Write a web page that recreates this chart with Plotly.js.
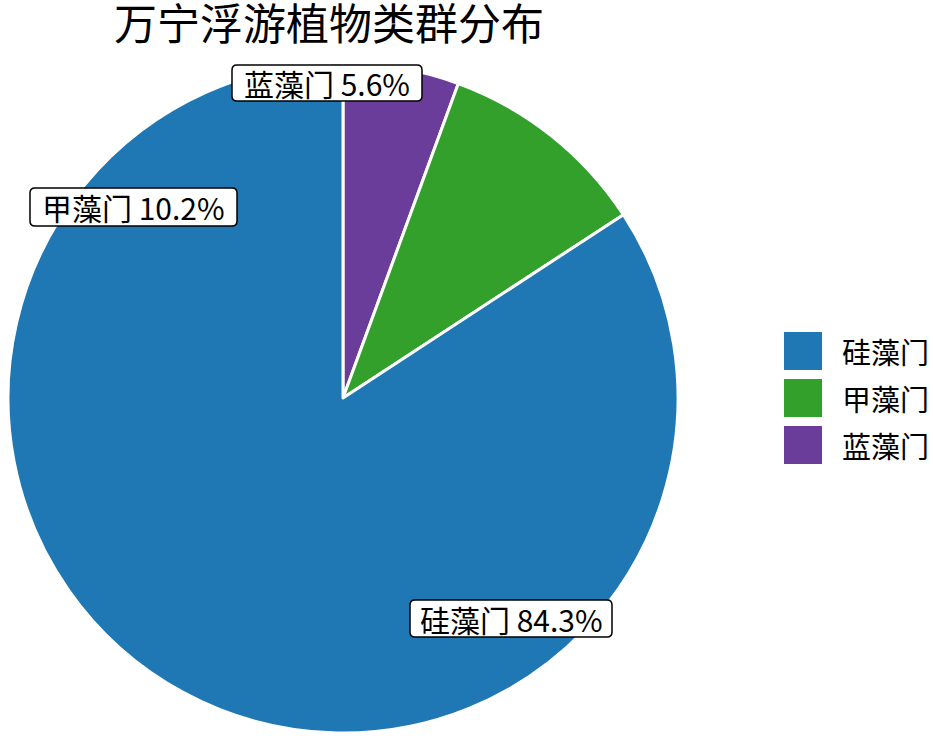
<!DOCTYPE html>
<html><head><meta charset="utf-8">
<script src="https://cdn.plot.ly/plotly-3.0.1.min.js"></script>
<style>html,body{margin:0;padding:0;background:#fff}</style>
</head><body>
<div id="chart" style="width:933px;height:741px"></div>
<script>
const categories = ["硅藻门", "甲藻门", "蓝藻门"];
const values = [84.3, 10.2, 5.6];
const percentLabels = ["84.3%", "10.2%", "5.6%"];
const colors = ["#1f77b4", "#33a02c", "#6a3d9a"];
const titleText = "万宁浮游植物类群分布";

const W = 933, H = 741;
const FONT = "'Noto Sans CJK SC', 'Noto Sans', sans-serif";
// label box centres and sizes in pixels (layout only)
const boxes = [
  {cx: 511, cy: 618.5, w: 202, h: 37},
  {cx: 133.5, cy: 207, w: 207, h: 38},
  {cx: 327, cy: 83, w: 190, h: 36}
];
const px = x => x / W, py = y => (H - y) / H;

function roundRect(b, r) {
  const x0 = b.cx - b.w / 2, x1 = b.cx + b.w / 2, y0 = b.cy - b.h / 2, y1 = b.cy + b.h / 2;
  const P = (x, y) => px(x).toFixed(5) + "," + py(y).toFixed(5);
  return "M" + P(x0 + r, y0) + " L" + P(x1 - r, y0) + " Q" + P(x1, y0) + " " + P(x1, y0 + r) +
    " L" + P(x1, y1 - r) + " Q" + P(x1, y1) + " " + P(x1 - r, y1) +
    " L" + P(x0 + r, y1) + " Q" + P(x0, y1) + " " + P(x0, y1 - r) +
    " L" + P(x0, y0 + r) + " Q" + P(x0, y0) + " " + P(x0 + r, y0) + " Z";
}

const shapes = [];
const annotations = [];
categories.forEach((c, i) => {
  shapes.push({type: "path", xref: "paper", yref: "paper", path: roundRect(boxes[i], 5),
    fillcolor: "#fff", line: {color: "#000", width: 1.5}});
  annotations.push({x: px(boxes[i].cx), y: py(boxes[i].cy), xref: "paper", yref: "paper",
    text: c + " " + percentLabels[i], showarrow: false,
    font: {family: FONT, size: 30, color: "#000"}, xanchor: "center", yanchor: "middle"});
});

// legend
categories.forEach((c, i) => {
  const cy = 351 + i * 47;
  shapes.push({type: "rect", xref: "paper", yref: "paper",
    x0: px(784), x1: px(822), y0: py(cy + 19), y1: py(cy - 19),
    fillcolor: colors[i], line: {width: 0}});
  annotations.push({x: px(840), y: py(cy), xref: "paper", yref: "paper",
    text: c, showarrow: false, xanchor: "left", yanchor: "middle",
    font: {family: FONT, size: 29, color: "#000"}});
});

// reference goes clockwise from 12 o'clock: last category first
const data = [{
  type: "pie",
  labels: categories.slice().reverse(),
  values: values.slice().reverse(),
  marker: {colors: colors.slice().reverse(), line: {color: "#fff", width: 3}},
  sort: false, direction: "clockwise", rotation: 0,
  textinfo: "none", hoverinfo: "label+percent",
  domain: {x: [px(8), px(678)], y: [py(733), py(63)]},
  showlegend: false
}];

const layout = {
  width: W, height: H,
  margin: {l: 0, r: 0, t: 0, b: 0},
  paper_bgcolor: "#fff",
  title: {text: titleText, x: px(329), xanchor: "center", y: py(25), yanchor: "middle",
    font: {family: FONT, size: 43, color: "#000"}},
  showlegend: false,
  annotations: annotations,
  shapes: shapes
};

Plotly.newPlot("chart", data, layout, {displayModeBar: false});
</script>
</body></html>
